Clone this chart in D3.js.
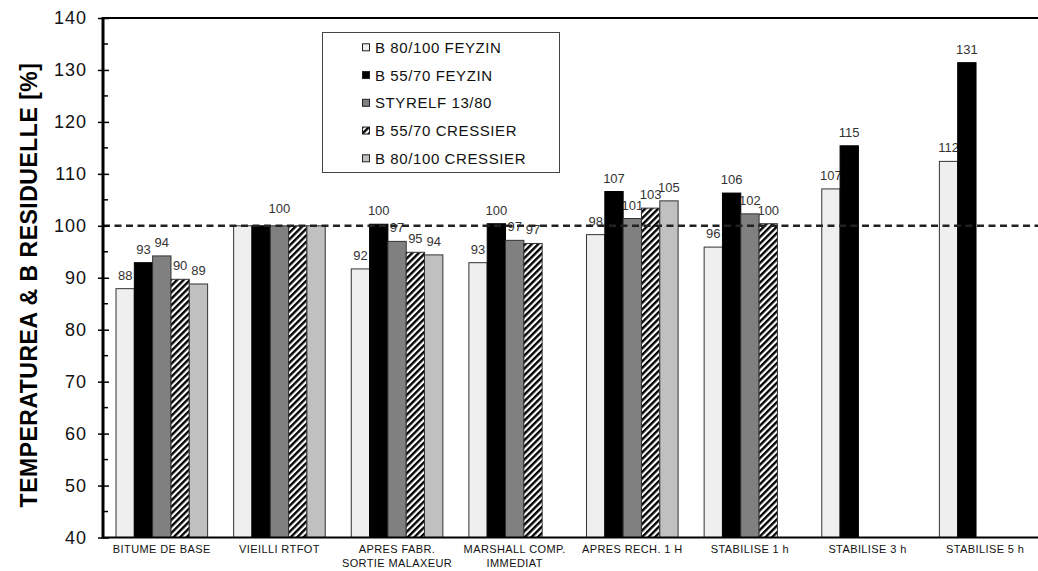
<!DOCTYPE html>
<html>
<head>
<meta charset="utf-8">
<script src="https://cdn.jsdelivr.net/npm/d3@7"></script>
<style>
  html, body { margin: 0; padding: 0; background: #fff; }
  svg { display: block; font-family: Arial, "Liberation Sans", sans-serif; }
</style>
</head>
<body>
<svg id="chart" width="1038" height="571"></svg>
<script>
// Residual temperature ratios of each binder at each stage (% of base)
const categories = [
  "BITUME DE BASE",
  "VIEILLI RTFOT",
  "APRES FABR.\nSORTIE MALAXEUR",
  "MARSHALL COMP.\nIMMEDIAT",
  "APRES RECH. 1 H",
  "STABILISE 1 h",
  "STABILISE 3 h",
  "STABILISE 5 h"
];
const seriesNames = ["B 80/100 FEYZIN", "B 55/70 FEYZIN", "STYRELF 13/80", "B 55/70 CRESSIER", "B 80/100 CRESSIER"];
const feyzin80   = [87.9, 100, 91.7, 92.9, 98.3, 95.9, 107.1, 112.4];
const feyzin55   = [92.9, 100, 100.3, 100.4, 106.6, 106.3, 115.4, 131.4];
const styrelf    = [94.2, 100, 97.0, 97.2, 101.4, 102.3, null, null];
const cressier55 = [89.7, 100, 94.9, 96.6, 103.4, 100.4, null, null];
const cressier80 = [88.8, 100, 94.4, null, 104.8, null, null, null];
const yTicks = [40, 50, 60, 70, 80, 90, 100, 110, 120, 130, 140];
const referenceLevel = 100;

const seriesValues = [feyzin80, feyzin55, styrelf, cressier55, cressier80];
const fills = ["#efefef", "#000000", "#808080", "url(#hatch)", "#c0c0c0"];

const svg = d3.select("#chart");
const plotLeft = 103, plotRight = 1044, plotTop = 18, plotBottom = 537.5;

// hatch pattern for the CRESSIER 55/70 series
const defs = svg.append("defs");
const pat = defs.append("pattern")
  .attr("id", "hatch").attr("patternUnits", "userSpaceOnUse")
  .attr("width", 4.6).attr("height", 4.6)
  .attr("patternTransform", "rotate(45)");
pat.append("rect").attr("width", 4.6).attr("height", 4.6).attr("fill", "#fff");
pat.append("line").attr("x1", 1.2).attr("y1", 0).attr("x2", 1.2).attr("y2", 4.6)
  .attr("stroke", "#000").attr("stroke-width", 2.4);

const x0 = d3.scaleBand().domain(d3.range(categories.length)).range([plotLeft, plotRight]);
const x1 = d3.scaleBand().domain(d3.range(seriesNames.length))
  .range([0, x0.bandwidth()]).paddingInner(0).paddingOuter(0.71);
const y = d3.scaleLinear().domain([40, 140]).range([plotBottom, plotTop]);

// value labels (drawn beneath the bars)
const labelG = svg.append("g");
categories.forEach((c, ci) => {
  const vals = seriesValues.map(s => s[ci]);
  const present = vals.map((v, i) => v == null ? null : i).filter(i => i != null);
  const allSame = present.every(i => Math.round(vals[i]) === Math.round(vals[present[0]]));
  const shown = allSame && present.length > 1 ? [present[Math.floor(present.length / 2)]] : present;
  const gap = allSame && present.length > 1 ? 13 : 9;
  shown.forEach(si => {
    labelG.append("text")
      .attr("x", x0(ci) + x1(si) + x1.bandwidth() / 2)
      .attr("y", y(vals[si]) - gap)
      .attr("text-anchor", "middle")
      .attr("font-size", 13).attr("fill", "#333")
      .text(d3.format(".0f")(vals[si]));
  });
});

// bars
const barG = svg.append("g");
seriesValues.forEach((vals, si) => {
  barG.selectAll(null)
    .data(vals.map((v, ci) => ({ v, ci })).filter(d => d.v != null))
    .join("rect")
    .attr("x", d => x0(d.ci) + x1(si))
    .attr("y", d => y(d.v))
    .attr("width", x1.bandwidth())
    .attr("height", d => y(40) - y(d.v))
    .attr("fill", fills[si])
    .attr("stroke", si === 1 ? "#000" : "#333")
    .attr("stroke-width", 1);
});

// reference line at 100 %
svg.append("line")
  .attr("x1", plotLeft).attr("x2", 1038)
  .attr("y1", y(referenceLevel)).attr("y2", y(referenceLevel))
  .attr("stroke", "#222").attr("stroke-width", 2.5)
  .attr("stroke-dasharray", "7,4.5");

// frame: top border and bottom axis
svg.append("line").attr("x1", plotLeft).attr("x2", 1038).attr("y1", plotTop).attr("y2", plotTop)
  .attr("stroke", "#000").attr("stroke-width", 2);
svg.append("line").attr("x1", plotLeft).attr("x2", 1038).attr("y1", plotBottom).attr("y2", plotBottom)
  .attr("stroke", "#000").attr("stroke-width", 2);

// y axis
const yAxis = svg.append("g").attr("transform", `translate(${plotLeft},0)`)
  .call(d3.axisLeft(y).tickValues(yTicks).tickSize(5).tickPadding(11));
yAxis.select(".domain").remove();
yAxis.selectAll(".tick line").attr("x1", 6).attr("stroke", "#000").attr("stroke-width", 1.5);
yAxis.selectAll(".tick text")
  .attr("font-size", 18).attr("font-family", "Arial, 'Liberation Sans', sans-serif")
  .attr("letter-spacing", 1).attr("fill", "#111");
const minorTicks = d3.range(45, 140, 10);
svg.append("g").attr("transform", `translate(${plotLeft},0)`)
  .selectAll("line").data(minorTicks).join("line")
  .attr("x1", 0).attr("x2", 5)
  .attr("y1", d => y(d)).attr("y2", d => y(d))
  .attr("stroke", "#000").attr("stroke-width", 1.5);
svg.append("line")
  .attr("x1", plotLeft).attr("x2", plotLeft)
  .attr("y1", plotTop - 1).attr("y2", plotBottom + 1)
  .attr("stroke", "#000").attr("stroke-width", 3);

// category labels
categories.forEach((c, ci) => {
  const t = svg.append("text")
    .attr("x", x0(ci) + x0.bandwidth() / 2)
    .attr("y", 553)
    .attr("text-anchor", "middle")
    .attr("font-size", 11).attr("letter-spacing", 0.4).attr("fill", "#111");
  c.split("\n").forEach((line, li) => {
    t.append("tspan").attr("x", x0(ci) + x0.bandwidth() / 2)
      .attr("dy", li === 0 ? 0 : 13.5).text(line);
  });
});

// y title
svg.append("text")
  .attr("transform", "translate(37,285) rotate(-90)")
  .attr("text-anchor", "middle")
  .attr("font-size", 23).attr("font-weight", "bold")
  .attr("letter-spacing", 0.5).attr("fill", "#000")
  .text("TEMPERATUREA & B RESIDUELLE [%]");

// legend
const lg = svg.append("g");
lg.append("rect").attr("x", 322.5).attr("y", 32.5).attr("width", 237).attr("height", 140)
  .attr("fill", "#fff").attr("stroke", "#444").attr("stroke-width", 1);
seriesNames.forEach((name, i) => {
  const cy = 47.3 + i * 27.75;
  lg.append("rect").attr("x", 362.5).attr("y", cy - 3.5).attr("width", 7).attr("height", 7)
    .attr("fill", fills[i]).attr("stroke", "#222").attr("stroke-width", 1);
  lg.append("text").attr("x", 375).attr("y", cy).attr("dominant-baseline", "central")
    .attr("font-size", 15).attr("letter-spacing", 0.6).attr("fill", "#111").text(name);
});
</script>
</body>
</html>
